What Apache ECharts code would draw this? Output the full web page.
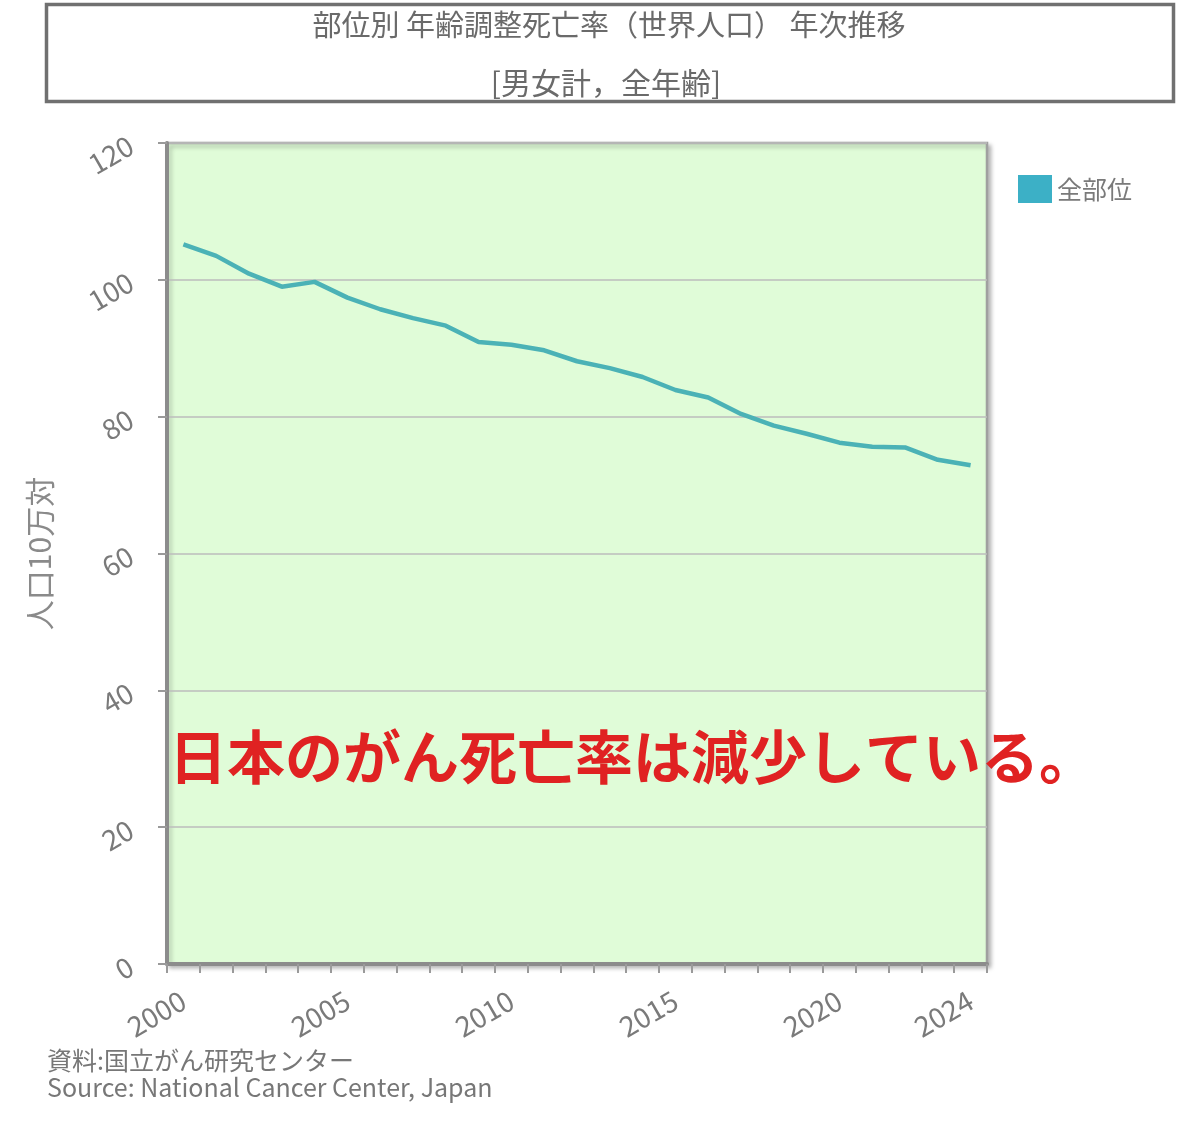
<!DOCTYPE html>
<html><head><meta charset="utf-8">
<script src="https://cdn.jsdelivr.net/npm/echarts@6/dist/echarts.min.js"></script>
<style>html,body{margin:0;padding:0;background:#fff}#c{width:1200px;height:1123px}</style>
</head><body><div id="c"></div>
<script>
const years = ['2000','2001','2002','2003','2004','2005','2006','2007','2008','2009','2010','2011','2012','2013','2014','2015','2016','2017','2018','2019','2020','2021','2022','2023','2024'];
const allSites = [105.2,103.5,100.9,99.0,99.7,97.4,95.7,94.4,93.3,90.9,90.5,89.7,88.1,87.1,85.8,83.9,82.8,80.4,78.7,77.5,76.2,75.6,75.5,73.7,72.9];
const seriesName = '全部位';
const titleLine1 = '部位別 年齢調整死亡率（世界人口） 年次推移';
const titleLine2 = '[男女計，全年齢]';
const yAxisName = '人口10万対';
const labeledYears = ['2000','2005','2010','2015','2020','2024'];
const annotation = '日本のがん死亡率は減少している。';
const source1 = '資料:国立がん研究センター';
const source2 = 'Source: National Cancer Center, Japan';

const FONT = '"Noto Sans CJK JP", "Noto Sans", sans-serif';
const chart = echarts.init(document.getElementById('c'));
chart.setOption({
  backgroundColor: '#ffffff',
  textStyle: { fontFamily: FONT },
  grid: {
    left: 167, right: 213, top: 143, bottom: 159,
    outerBoundsMode: 'none', containLabel: false,
    show: true, backgroundColor: '#e0fcd8', borderColor: '#a0a0a0', borderWidth: 2.5,
    shadowColor: 'rgba(0,0,0,0.25)', shadowBlur: 4, shadowOffsetX: 3, shadowOffsetY: 3
  },
  legend: {
    left: 1013, top: 170, orient: 'vertical',
    icon: 'rect', itemWidth: 34, itemHeight: 28, itemGap: 5,
    textStyle: { fontSize: 25, color: '#7a7a7a', fontFamily: FONT },
    data: [seriesName]
  },
  xAxis: {
    type: 'category', data: years, boundaryGap: true,
    axisLine: { lineStyle: { color: '#8c8c8c', width: 4 } },
    axisTick: { show: true, interval: 0, length: 9, lineStyle: { color: '#9a9a9a', width: 2 } },
    axisLabel: {
      interval: (i, v) => labeledYears.indexOf(v) >= 0,
      rotate: 30, margin: 34, fontSize: 28, color: '#7a7a7a', fontFamily: FONT
    },
    splitLine: { show: false }
  },
  yAxis: {
    type: 'value', min: 0, max: 120, interval: 20,
    name: yAxisName, nameLocation: 'middle', nameRotate: 90, nameGap: 112,
    nameTextStyle: { fontSize: 30, color: '#8a8a8a', fontFamily: FONT },
    axisLine: { show: true, lineStyle: { color: '#8c8c8c', width: 4 } },
    axisTick: { show: true, length: 9, lineStyle: { color: '#9a9a9a', width: 2 } },
    axisLabel: { rotate: 30, margin: 36, fontSize: 28, color: '#7a7a7a', fontFamily: FONT },
    splitLine: { lineStyle: { color: '#bdbdbd', width: 1.5 } }
  },
  series: [{
    name: seriesName, type: 'line', data: allSites,
    showSymbol: false, symbol: 'none',
    itemStyle: { color: '#3cb0c6' },
    lineStyle: { color: '#4bb2b6', width: 4.5 },
    z: 5
  }],
  graphic: [
    { type: 'rect', shape: { x: 46.5, y: 4.5, width: 1127, height: 97 },
      style: { fill: '#ffffff', stroke: '#707070', lineWidth: 3.5 }, z: 1 },
    { type: 'text', x: 609, y: 25, z: 2,
      style: { text: titleLine1, fontSize: 29, fill: '#6a6a6a', fontFamily: FONT, align: 'center', verticalAlign: 'middle' } },
    { type: 'text', x: 606, y: 83, z: 2,
      style: { text: titleLine2, fontSize: 30, fill: '#6a6a6a', fontFamily: FONT, align: 'center', verticalAlign: 'middle' } },
    { type: 'text', x: 169, y: 757, z: 100,
      style: { text: annotation, fontSize: 58, fontWeight: 'bold', fill: '#e02222', fontFamily: FONT, align: 'left', verticalAlign: 'middle' } },
    { type: 'text', x: 47, y: 1060, z: 2,
      style: { text: source1, fontSize: 25, fill: '#777777', fontFamily: FONT, align: 'left', verticalAlign: 'middle' } },
    { type: 'text', x: 47, y: 1087, z: 2,
      style: { text: source2, fontSize: 25, fill: '#777777', fontFamily: FONT, align: 'left', verticalAlign: 'middle' } }
  ]
});
</script></body></html>
